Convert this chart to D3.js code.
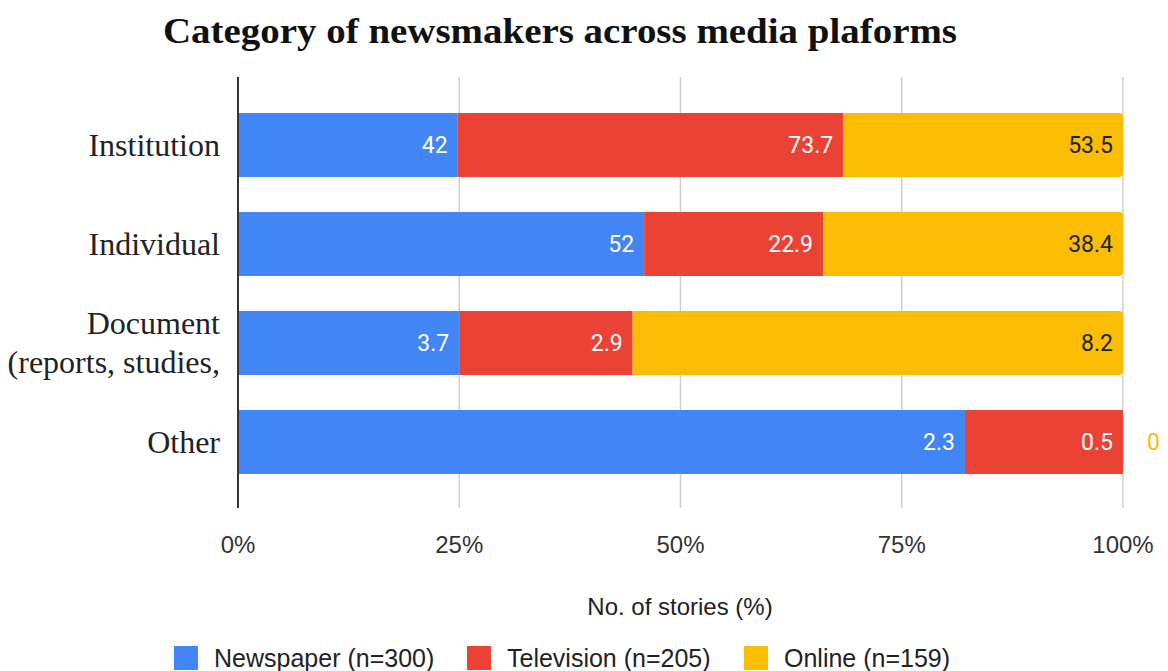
<!DOCTYPE html>
<html>
<head>
<meta charset="utf-8">
<script src="https://cdn.jsdelivr.net/npm/d3@7"></script>
<style>
  body { margin: 0; background: #fff; }
  svg { display: block; }
</style>
</head>
<body>
<svg id="chart" width="1168" height="671"></svg>
<script>
// --- data ---
const categories = ["Institution", "Individual", "Document", "Other"];
const categoryLines = [["Institution"], ["Individual"], ["Document", "(reports, studies,"], ["Other"]];
const seriesNames = ["Newspaper (n=300)", "Television (n=205)", "Online (n=159)"];
const newspaper = [42, 52, 3.7, 2.3];
const television = [73.7, 22.9, 2.9, 0.5];
const online = [53.5, 38.4, 8.2, 0];
const tickValues = [0, 0.25, 0.5, 0.75, 1];
const tickLabels = ["0%", "25%", "50%", "75%", "100%"];

const colors = ["#4285F4", "#EA4335", "#FBBC04"];
const labelColors = ["#ffffff", "#ffffff", "#222222"];

const svg = d3.select("#chart");

// --- scales ---
const x = d3.scaleLinear().domain([0, 1]).range([238, 1123]);
const y = d3.scaleBand()
    .domain(categories)
    .range([95.5, 491.5])
    .paddingInner(0.354)
    .paddingOuter(0.177);

// build normalised stack
const rows = categories.map((c, i) => ({
    category: c,
    values: [newspaper[i], television[i], online[i]]
}));
rows.forEach(r => {
    const total = d3.sum(r.values);
    let acc = 0;
    r.segments = r.values.map((v, s) => {
        const seg = { series: s, value: v, x0: acc / total, x1: (acc + v) / total, category: r.category };
        acc += v;
        return seg;
    });
});

// --- title ---
svg.append("text")
    .attr("x", 560)
    .attr("y", 43)
    .attr("text-anchor", "middle")
    .attr("textLength", 794)
    .attr("lengthAdjust", "spacingAndGlyphs")
    .style("font-family", "'Liberation Serif', serif")
    .style("font-weight", "bold")
    .style("font-size", "36px")
    .style("fill", "#111")
    .text("Category of newsmakers across media plaforms");

// --- gridlines ---
svg.append("g")
    .selectAll("line")
    .data(tickValues.slice(1))
    .join("line")
    .attr("x1", d => x(d)).attr("x2", d => x(d))
    .attr("y1", 77).attr("y2", 508)
    .style("stroke", "#d0d0d0")
    .style("stroke-width", 1.5);

// --- bars ---
const r = 4;
const barG = svg.append("g");
rows.forEach(row => {
    row.segments.forEach(seg => {
        if (seg.value <= 0) return;
        const x0 = x(seg.x0), x1 = x(seg.x1);
        const y0 = y(row.category), h = y.bandwidth();
        if (seg.series === 2) {
            // last series gets rounded right corners
            const p = d3.path();
            p.moveTo(x0, y0);
            p.lineTo(x1 - r, y0);
            p.quadraticCurveTo(x1, y0, x1, y0 + r);
            p.lineTo(x1, y0 + h - r);
            p.quadraticCurveTo(x1, y0 + h, x1 - r, y0 + h);
            p.lineTo(x0, y0 + h);
            p.closePath();
            barG.append("path").attr("d", p.toString()).attr("fill", colors[seg.series]);
        } else {
            barG.append("rect")
                .attr("x", x0)
                .attr("y", y0)
                .attr("width", x1 - x0)
                .attr("height", h)
                .attr("fill", colors[seg.series]);
        }
    });
});

// --- value labels ---
const labelG = svg.append("g")
    .style("font-family", "Roboto, sans-serif")
    .style("font-size", "23px");
rows.forEach(row => {
    row.segments.forEach(seg => {
        const cy = y(row.category) + y.bandwidth() / 2;
        if (seg.value > 0) {
            labelG.append("text")
                .attr("x", x(seg.x1) - 10)
                .attr("y", cy)
                .attr("dy", "0.36em")
                .attr("text-anchor", "end")
                .style("fill", labelColors[seg.series])
                .text(seg.value);
        } else {
            labelG.append("text")
                .attr("x", x(1) + 24)
                .attr("y", cy)
                .attr("dy", "0.36em")
                .attr("text-anchor", "start")
                .style("fill", colors[seg.series])
                .text(seg.value);
        }
    });
});

// --- left axis line ---
svg.append("line")
    .attr("x1", x(0)).attr("x2", x(0))
    .attr("y1", 77).attr("y2", 508)
    .style("stroke", "#333")
    .style("stroke-width", 2);

// --- category labels ---
const catG = svg.append("g")
    .style("font-family", "'Liberation Serif', serif")
    .style("font-size", "32px")
    .style("fill", "#222");
categories.forEach((c, i) => {
    const lines = categoryLines[i];
    const cy = y(c) + y.bandwidth() / 2;
    const lh = 39;
    lines.forEach((ln, j) => {
        catG.append("text")
            .attr("x", 220)
            .attr("y", cy + (j - (lines.length - 1) / 2) * lh)
            .attr("dy", "0.33em")
            .attr("text-anchor", "end")
            .text(ln);
    });
});

// --- x tick labels ---
svg.append("g")
    .selectAll("text")
    .data(tickValues)
    .join("text")
    .attr("x", d => x(d))
    .attr("y", 553)
    .attr("text-anchor", "middle")
    .style("font-family", "'Liberation Sans', Arial, sans-serif")
    .style("font-size", "24px")
    .style("fill", "#333")
    .text((d, i) => tickLabels[i]);

// --- x axis title ---
svg.append("text")
    .attr("x", 680)
    .attr("y", 615)
    .attr("text-anchor", "middle")
    .style("font-family", "'Liberation Sans', Arial, sans-serif")
    .style("font-size", "24px")
    .style("fill", "#222")
    .text("No. of stories (%)");

// --- legend ---
const legendX = [174, 467, 744];
const legend = svg.append("g");
seriesNames.forEach((name, i) => {
    legend.append("rect")
        .attr("x", legendX[i])
        .attr("y", 646)
        .attr("width", 24)
        .attr("height", 24)
        .attr("fill", colors[i]);
    legend.append("text")
        .attr("x", legendX[i] + 40)
        .attr("y", 667)
        .style("font-family", "'Liberation Sans', Arial, sans-serif")
        .style("font-size", "25px")
        .style("fill", "#222")
        .text(name);
});
</script>
</body>
</html>
